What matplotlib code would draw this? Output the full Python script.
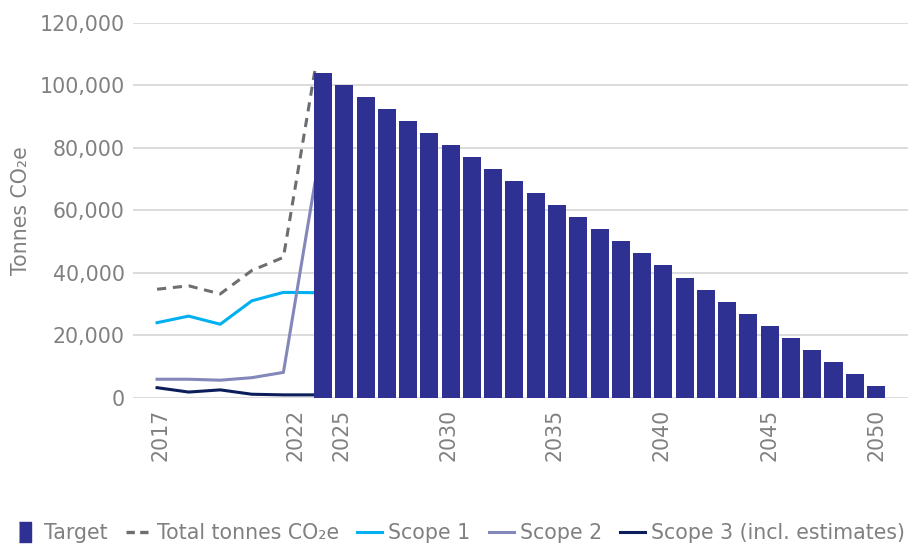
import matplotlib
matplotlib.use("Agg")
import matplotlib.pyplot as plt
from matplotlib.lines import Line2D
from matplotlib.ticker import FuncFormatter

plt.rcParams['font.family'] = ['DejaVu Sans']

# historic emissions (tonnes CO2e)
hist_years = [2017, 2018, 2019, 2020, 2021, 2022]
total = [34800, 35900, 33300, 40800, 45000, 105000]
scope1 = [24100, 26200, 23600, 31100, 33800, 33700]
scope2 = [6000, 6000, 5700, 6500, 8200, 69000]
scope3 = [3300, 1900, 2600, 1200, 1000, 1000]

# target pathway
target_years = list(range(2024, 2051))
target = [104000, 100150, 96300, 92450, 88600, 84750, 80900, 77050, 73200,
          69350, 65500, 61650, 57800, 53950, 50100, 46250, 42400, 38550,
          34700, 30850, 27000, 23150, 19300, 15450, 11600, 7750, 3900]

tick_labels = ['2017', '2022', '2025', '2030', '2035', '2040', '2045', '2050']

grey = '#808080'
c_target = '#2e3192'
c_total = '#6d6e71'
c_s1 = '#00b0f0'
c_s2 = '#8387b9'
c_s3 = '#0b1e5b'
fs = 14.8

fig = plt.figure(figsize=(9.22, 5.47), dpi=100)
ax = fig.add_axes([0.1443, 0.2724, 0.8405, 0.6856])

# lines on the base axis (drawn under the bars)
ax.plot(hist_years, total, color=c_total, lw=2.2, ls=(0, (3, 2.2)))
ax.plot(hist_years, scope1, color=c_s1, lw=2.2)
ax.plot(hist_years, scope2, color=c_s2, lw=2.2)
ax.plot(hist_years, scope3, color=c_s3, lw=2.2)
ax.set_xlim(2016.24, 2040.77)
ax.set_ylim(0, 120000)
ax.set_yticks(range(0, 120001, 20000))
ax.yaxis.set_major_formatter(FuncFormatter(lambda v, p: f"{int(v):,}"))
ax.grid(axis='y', color='#d9d9d9', lw=1.3)
ax.set_axisbelow(True)
ax.tick_params(axis='y', length=0, labelsize=fs, colors=grey, pad=6)
ax.set_xticks([])
for s in ax.spines.values():
    s.set_visible(False)
ax.set_ylabel('Tonnes CO₂e', color=grey, fontsize=fs, labelpad=6)

# bars on a twin axis with its own year scale
axb = ax.twiny()
axb.bar(target_years, target, width=0.85, color=c_target, zorder=3)
axb.set_xlim(2015.07, 2051.5)
axb.xaxis.set_ticks_position('bottom')
axb.xaxis.set_label_position('bottom')
axb.set_xticks([2016.34, 2022.69, 2024.85, 2029.88, 2034.9, 2039.93, 2044.97, 2050.0])
axb.set_xticklabels(tick_labels, rotation=90)
axb.tick_params(axis='x', length=0, labelsize=fs, colors=grey, pad=8)
for s in axb.spines.values():
    s.set_visible(False)

box = [(-0.3, -0.5), (0.3, -0.5), (0.3, 0.5), (-0.3, 0.5)]
handles = [
    Line2D([], [], ls='', marker=box, markersize=15, color=c_target),
    Line2D([], [], color=c_total, lw=2.4, ls=(0, (2.5, 1.6))),
    Line2D([], [], color=c_s1, lw=2.2),
    Line2D([], [], color=c_s2, lw=2.2),
    Line2D([], [], color=c_s3, lw=2.2),
]
labels = ['Target', 'Total tonnes CO₂e', 'Scope 1', 'Scope 2', 'Scope 3 (incl. estimates)']
fig.legend(handles, labels, loc='center', bbox_to_anchor=(0.498, 0.026),
           ncol=5, frameon=False, fontsize=fs, handlelength=1.2,
           handletextpad=0.3, columnspacing=0.9, labelcolor=grey,
           borderpad=0, borderaxespad=0)

fig.savefig('out.png', dpi=100)
